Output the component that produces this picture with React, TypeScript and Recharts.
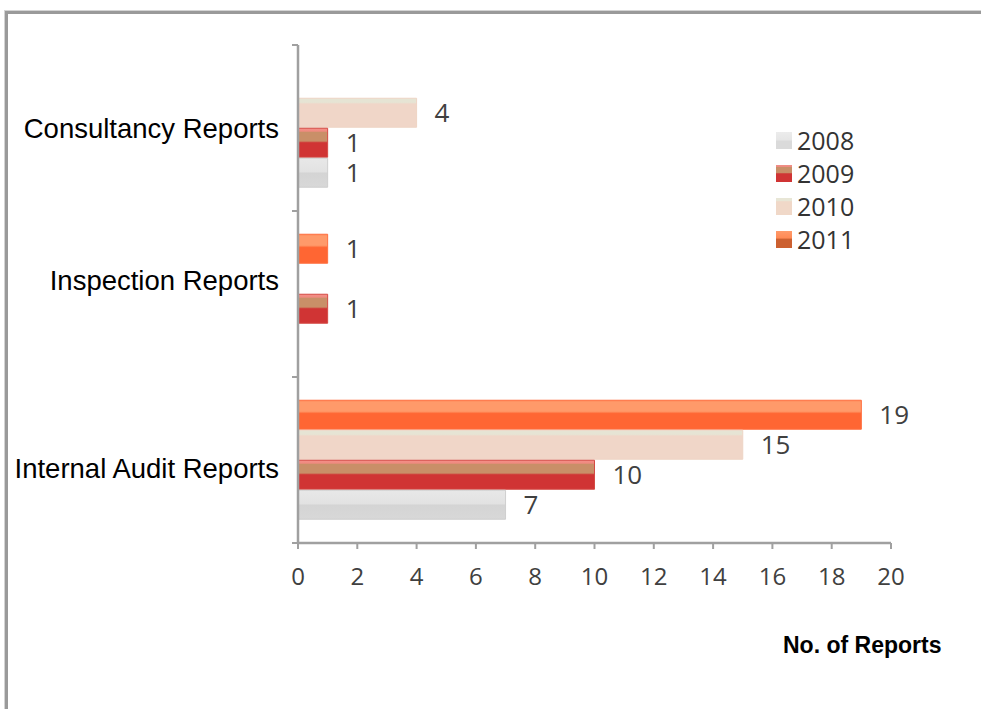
import React from 'react';
import { BarChart, Bar, XAxis, YAxis, Legend, LabelList } from 'recharts';

const CATEGORIES = ['Consultancy Reports', 'Inspection Reports', 'Internal Audit Reports'];
const Y2008 = [1, 0, 7];
const Y2009 = [1, 1, 10];
const Y2010 = [4, 0, 15];
const Y2011 = [0, 1, 19];
const X_TICKS = [0, 2, 4, 6, 8, 10, 12, 14, 16, 18, 20];
const AXIS_TITLE = 'No. of Reports';

const data = CATEGORIES.map((category, i) => ({
  category,
  y2008: Y2008[i],
  y2009: Y2009[i],
  y2010: Y2010[i],
  y2011: Y2011[i],
}));

type Stop = [number, string];
type Series = { key: string; name: string; stroke: string; stops: Stop[]; legendStops: Stop[] };

const SERIES: Series[] = [
  {
    key: 'y2008', name: '2008', stroke: '#cfcfcf',
    stops: [[0, '#e8e8e8'], [0.46, '#e2e2e2'], [0.52, '#d4d4d4'], [1, '#d8d8d8']],
    legendStops: [[0, '#ececec'], [0.45, '#e6e6e6'], [0.55, '#dadada'], [1, '#dadada']],
  },
  {
    key: 'y2009', name: '2009', stroke: '#d44a44',
    stops: [[0, '#f39088'], [0.1, '#f08a80'], [0.14, '#c98f68'], [0.44, '#c98f68'], [0.5, '#d03434'], [1, '#d03434']],
    legendStops: [[0, '#f09088'], [0.1, '#ee8a80'], [0.14, '#c98f68'], [0.44, '#c98f68'], [0.52, '#d03434'], [1, '#d03434']],
  },
  {
    key: 'y2010', name: '2010', stroke: '#eed4c4',
    stops: [[0, '#e6e4d4'], [0.14, '#e6e4d4'], [0.2, '#f0d6c8'], [1, '#f0d6c8']],
    legendStops: [[0, '#e8e6d6'], [0.15, '#e8e6d6'], [0.22, '#f0d8c8'], [1, '#f0d8c8']],
  },
  {
    key: 'y2011', name: '2011', stroke: '#ff7040',
    stops: [[0, '#ff8050'], [0.06, '#ff9a6a'], [0.38, '#ff9a6a'], [0.46, '#ff6633'], [1, '#ff6633']],
    legendStops: [[0, '#ff9a6a'], [0.4, '#ff8a55'], [0.5, '#cc6030'], [1, '#cc6030']],
  },
];

const CHART_W = 981;
const CHART_H = 709;
const MARGIN = { top: 45, right: 90, bottom: 126, left: 8 };
const X_AXIS_H = 40;
const Y_AXIS_W = 290;
const PLOT_H = CHART_H - MARGIN.top - MARGIN.bottom - X_AXIS_H;
const BAND = PLOT_H / CATEGORIES.length;
const Y_LABEL_GAP = 19;
const LABEL_DY = [0, -14, 8];
const AXIS_COLOR = '#a0a0a0';
const NUM_FONT = '"Open Sans", "DejaVu Sans", sans-serif';
const CAT_FONT = '"Liberation Sans", Arial, sans-serif';

const cssGradient = (stops: Stop[]) =>
  `linear-gradient(to bottom, ${stops.map(([o, c]) => `${c} ${o * 100}%`).join(', ')})`;

const CategoryTick = (props: any) => {
  const { x, y, payload, index } = props;
  const axisX = x + Y_LABEL_GAP;
  const isLast = index === CATEGORIES.length - 1;
  return (
    <g>
      <line x1={axisX - 6} x2={axisX} y1={y - BAND / 2} y2={y - BAND / 2} stroke={AXIS_COLOR} strokeWidth={2} />
      {isLast && (
        <line x1={axisX - 6} x2={axisX} y1={y + BAND / 2} y2={y + BAND / 2} stroke={AXIS_COLOR} strokeWidth={2} />
      )}
      <text
        x={x}
        y={y + (LABEL_DY[index] || 0)}
        dy="0.36em"
        textAnchor="end"
        fontFamily={CAT_FONT}
        fontSize={27.5}
        fill="#000"
      >
        {payload.value}
      </text>
    </g>
  );
};

const ValueLabel = (props: any) => {
  const { x, y, width, height, value } = props;
  if (!value) return null;
  return (
    <text
      x={Number(x) + Number(width) + 18}
      y={Number(y) + Number(height) / 2}
      dy="0.36em"
      fontFamily={NUM_FONT}
      fontSize={26}
      fill="#404040"
    >
      {value}
    </text>
  );
};

const LegendContent = () => (
  <div style={{ fontFamily: NUM_FONT, fontSize: 25, color: '#333' }}>
    {SERIES.map((s) => (
      <div key={s.key} style={{ display: 'flex', alignItems: 'center', height: 33 }}>
        <span
          style={{
            display: 'inline-block',
            width: 16,
            height: 17,
            marginRight: 5,
            background: cssGradient(s.legendStops),
          }}
        />
        <span style={{ lineHeight: '33px' }}>{s.name}</span>
      </div>
    ))}
  </div>
);

export default function App() {
  const barOrder = [...SERIES].reverse();
  return (
    <div
      style={{
        position: 'absolute',
        left: 0,
        top: 0,
        width: CHART_W,
        height: CHART_H,
        overflow: 'hidden',
        background: '#fff',
      }}
    >
      <div
        style={{
          position: 'absolute',
          left: 5,
          top: 11,
          width: 1200,
          height: 900,
          borderTop: '3px solid #9a9a9a',
          borderLeft: '3px solid #9a9a9a',
          boxShadow: '-1px -1px 0 0 #d4d4d4',
        }}
      />
      <div style={{ position: 'absolute', left: 0, top: 0 }}>
        <BarChart
          width={CHART_W}
          height={CHART_H}
          data={data}
          layout="vertical"
          margin={MARGIN}
          barCategoryGap="14%"
          barGap={1}
        >
          <defs>
            {SERIES.map((s) => (
              <linearGradient key={s.key} id={`grad-${s.key}`} x1="0" y1="0" x2="0" y2="1">
                {s.stops.map(([o, c], i) => (
                  <stop key={i} offset={o} stopColor={c} />
                ))}
              </linearGradient>
            ))}
          </defs>
          <XAxis
            type="number"
            domain={[0, 20]}
            ticks={X_TICKS}
            interval={0}
            height={X_AXIS_H}
            axisLine={{ stroke: AXIS_COLOR, strokeWidth: 2.5 }}
            tickLine={{ stroke: AXIS_COLOR, strokeWidth: 2 }}
            tickSize={6}
            tickMargin={19}
            tick={{ fontFamily: NUM_FONT, fontSize: 24, fill: '#404040' }}
          />
          <YAxis
            type="category"
            dataKey="category"
            width={Y_AXIS_W}
            axisLine={{ stroke: AXIS_COLOR, strokeWidth: 2.5 }}
            tickLine={false}
            tickSize={0}
            tickMargin={Y_LABEL_GAP}
            interval={0}
            tick={<CategoryTick />}
          />
          <Legend
            layout="vertical"
            align="center"
            verticalAlign="middle"
            content={<LegendContent />}
            wrapperStyle={{ position: 'absolute', left: 776, top: 124, width: 130, height: 140 }}
          />
          {barOrder.map((s) => (
            <Bar
              key={s.key}
              dataKey={s.key}
              name={s.name}
              fill={`url(#grad-${s.key})`}
              stroke={s.stroke}
              strokeWidth={1}
              isAnimationActive={false}
            >
              <LabelList dataKey={s.key} content={<ValueLabel />} />
            </Bar>
          ))}
        </BarChart>
      </div>
      <div
        style={{
          position: 'absolute',
          left: 783,
          top: 634,
          fontFamily: CAT_FONT,
          fontWeight: 'bold',
          fontSize: 23,
          lineHeight: '23px',
          color: '#000',
          whiteSpace: 'nowrap',
        }}
      >
        {AXIS_TITLE}
      </div>
    </div>
  );
}
